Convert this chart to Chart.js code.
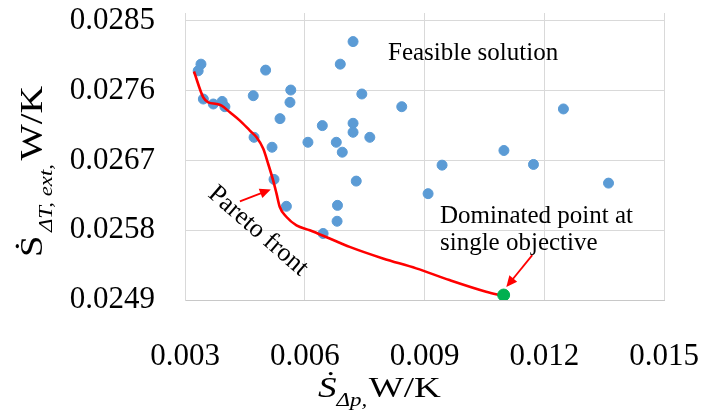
<!DOCTYPE html>
<html>
<head>
<meta charset="utf-8">
<script src="https://cdn.jsdelivr.net/npm/chart.js@4.4.1/dist/chart.umd.min.js"></script>
<style>
  html, body { margin: 0; padding: 0; background: #ffffff; }
  #wrap { position: relative; width: 703px; height: 416px; }
</style>
</head>
<body>
<div id="wrap"><canvas id="c" width="703" height="416"></canvas></div>
<script>
// ---- data ----
const xTicks = [0.003, 0.006, 0.009, 0.012, 0.015];
const yTicks = [0.0249, 0.0258, 0.0267, 0.0276, 0.0285];

const feasibleX = [0.00340, 0.00333, 0.00502, 0.00721, 0.00689, 0.00565, 0.00471, 0.00563,
  0.00743, 0.00346, 0.00371, 0.00393, 0.00400, 0.00843, 0.00538, 0.00644, 0.00721, 0.00721,
  0.00763, 0.00473, 0.00608, 0.00518, 0.00679, 0.00694, 0.01248, 0.01099, 0.00944, 0.01173,
  0.01361, 0.00909, 0.00523, 0.00729, 0.00554, 0.00682, 0.00681, 0.00646];
const feasibleY = [0.027943, 0.027857, 0.027866, 0.028234, 0.027943, 0.027609, 0.027536, 0.027450,
  0.027558, 0.027493, 0.027429, 0.027462, 0.027394, 0.027394, 0.027240, 0.027150, 0.027180, 0.027064,
  0.026999, 0.026999, 0.026935, 0.026871, 0.026935, 0.026807, 0.027365, 0.026829, 0.026640, 0.026649,
  0.026408, 0.026272, 0.026456, 0.026434, 0.026109, 0.026121, 0.025916, 0.025758];

const paretoX = [0.003225, 0.003458, 0.003583, 0.003793, 0.003918, 0.004125, 0.004375, 0.004625,
  0.004793, 0.004958, 0.005083, 0.005208, 0.005293, 0.005375, 0.005543, 0.005793, 0.006125,
  0.006625, 0.007125, 0.007958, 0.008793, 0.009625, 0.010543, 0.010958];
const paretoY = [0.027848, 0.027514, 0.027450, 0.027429, 0.027407, 0.027321, 0.027214, 0.027086,
  0.026999, 0.026854, 0.026658, 0.026443, 0.026272, 0.026100, 0.025971, 0.025864, 0.025800,
  0.025693, 0.025585, 0.025436, 0.025308, 0.025157, 0.025007, 0.024955];

const dominatedX = [0.010983];
const dominatedY = [0.024964];

const toPts = (xs, ys) => xs.map((x, i) => ({ x: x, y: ys[i] }));

const SERIF = "'Times New Roman', 'Liberation Serif', 'DejaVu Serif', serif";

function arrow(ctx, x1, y1, x2, y2) {
  const ang = Math.atan2(y2 - y1, x2 - x1);
  const hl = 11, hw = 5;
  ctx.save();
  ctx.strokeStyle = '#FF0000';
  ctx.fillStyle = '#FF0000';
  ctx.lineWidth = 1.8;
  ctx.beginPath();
  ctx.moveTo(x1, y1);
  ctx.lineTo(x2 - hl * 0.8 * Math.cos(ang), y2 - hl * 0.8 * Math.sin(ang));
  ctx.stroke();
  ctx.beginPath();
  ctx.moveTo(x2, y2);
  ctx.lineTo(x2 - hl * Math.cos(ang) + hw * Math.sin(ang), y2 - hl * Math.sin(ang) - hw * Math.cos(ang));
  ctx.lineTo(x2 - hl * Math.cos(ang) - hw * Math.sin(ang), y2 - hl * Math.sin(ang) + hw * Math.cos(ang));
  ctx.closePath();
  ctx.fill();
  ctx.restore();
}

// draws text runs along the local x axis, stretched horizontally by sx
function runs(ctx, parts, sx) {
  ctx.save();
  ctx.scale(sx, 1);
  let cx = 0;
  parts.forEach(p => {
    ctx.font = p.font;
    ctx.fillText(p.text, cx, p.dy || 0);
    cx += ctx.measureText(p.text).width + (p.gap || 0);
  });
  ctx.restore();
}

const annotations = {
  id: 'annotations',
  afterDatasetsDraw(chart) {
    const ctx = chart.ctx;
    const xs = chart.scales.x, ys = chart.scales.y;
    const P = (vx, vy) => [xs.getPixelForValue(vx), ys.getPixelForValue(vy)];
    ctx.save();
    ctx.fillStyle = '#000000';
    ctx.textBaseline = 'alphabetic';
    ctx.textAlign = 'left';
    ctx.font = '25px ' + SERIF;
    ctx.fillText('Feasible solution', 388, 60);
    ctx.fillText('Dominated point at', 440, 223);
    ctx.fillText('single objective', 440, 250);

    ctx.save();
    ctx.translate(258, 231);
    ctx.rotate(41 * Math.PI / 180);
    ctx.textAlign = 'center';
    ctx.textBaseline = 'middle';
    ctx.font = '26px ' + SERIF;
    ctx.fillText('Pareto front', 0, 0);
    ctx.restore();

    const a1 = P(0.004375, 0.026173), b1 = P(0.00515, 0.026327);
    arrow(ctx, a1[0], a1[1], b1[0], b1[1]);
    const a2 = P(0.0117, 0.025479), b2 = P(0.01105, 0.025067);
    arrow(ctx, a2[0], a2[1], b2[0], b2[1]);

    // x axis title
    ctx.textAlign = 'left';
    ctx.textBaseline = 'alphabetic';
    ctx.save();
    ctx.translate(318, 397);
    runs(ctx, [
      { text: '\u1E60', font: 'italic 29px ' + SERIF },
      { text: '\u0394p,', font: 'italic 18px ' + SERIF, dy: 9, gap: 1 },
      { text: 'W/K', font: '29px ' + SERIF }
    ], 1.28);
    ctx.restore();

    // y axis title (rotated)
    ctx.save();
    ctx.translate(42, 257);
    ctx.rotate(-Math.PI / 2);
    runs(ctx, [
      { text: '\u1E60', font: '32px ' + SERIF, gap: 3 },
      { text: '\u0394T, ext,', font: 'italic 19px ' + SERIF, dy: 10, gap: 3 },
      { text: 'W/K', font: '32px ' + SERIF }
    ], 1.2);
    ctx.restore();
    ctx.restore();
  }
};

function zeroPad(s) { s.paddingLeft = 0; s.paddingRight = 0; s.paddingTop = 0; s.paddingBottom = 0; }

new Chart(document.getElementById('c'), {
  type: 'scatter',
  data: {
    datasets: [
      {
        label: 'Dominated point',
        data: toPts(dominatedX, dominatedY),
        backgroundColor: '#00B050',
        borderColor: '#00B050',
        pointRadius: 6,
        order: 0
      },
      {
        label: 'Pareto front',
        data: toPts(paretoX, paretoY),
        showLine: true,
        borderColor: '#FF0000',
        borderWidth: 2.6,
        pointRadius: 0,
        cubicInterpolationMode: 'monotone',
        fill: false,
        order: 1
      },
      {
        label: 'Feasible solution',
        data: toPts(feasibleX, feasibleY),
        backgroundColor: '#5B9BD5',
        borderColor: '#5B9BD5',
        pointRadius: 5,
        order: 2
      }
    ]
  },
  options: {
    responsive: false,
    animation: false,
    events: [],
    layout: { padding: { top: 13, right: 39, left: 0, bottom: 0 } },
    plugins: { legend: { display: false }, tooltip: { enabled: false } },
    scales: {
      x: {
        type: 'linear',
        min: 0.003,
        max: 0.015,
        afterBuildTicks: s => { s.ticks = xTicks.map(v => ({ value: v })); },
        afterFit: s => { s.height = 116; zeroPad(s); },
        grid: { color: '#D9D9D9', lineWidth: 1, drawTicks: false },
        border: { color: '#C8C8C8', width: 1 },
        ticks: {
          padding: 38,
          color: '#000000',
          font: { family: SERIF, size: 31 },
          maxRotation: 0,
          callback: v => Number(v).toFixed(3)
        }
      },
      y: {
        type: 'linear',
        min: 0.0249,
        max: 0.028603,
        afterBuildTicks: s => { s.ticks = yTicks.map(v => ({ value: v })); },
        afterFit: s => { s.width = 185; zeroPad(s); },
        grid: { color: '#D9D9D9', lineWidth: 1, drawTicks: false },
        border: { color: '#D9D9D9', width: 1 },
        ticks: {
          padding: 30,
          color: '#000000',
          font: { family: SERIF, size: 31 },
          callback: v => Number(v).toFixed(4)
        }
      }
    }
  },
  plugins: [annotations]
});
</script>
</body>
</html>
